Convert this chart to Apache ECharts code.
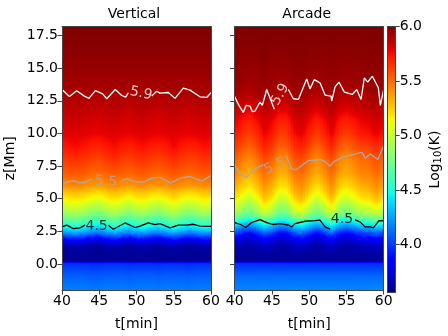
<!DOCTYPE html>
<html><head><meta charset="utf-8">
<style>html,body{margin:0;padding:0;background:#fff}#c{width:448px;height:336px}</style>
<script src="https://cdn.jsdelivr.net/npm/echarts@6/dist/echarts.min.js"></script>
</head><body><div id="c"></div>
<script>
const timeColumns=[40,41,42,43,44,45,46,47,48,49,50,51,52,53,54,55,56,57,58,59,60];
const heightRows=[-2,-1,0,0.1,0.2,1.2,1.6,2,2.4,2.8,3.2,3.6,4,4.5,5,5.5,6,7,8,9,10,11,12,13,14,16,18.2];
const yTicks=[0,2.5,5,7.5,10,12.5,15,17.5];
const colorTicks=[4,4.5,5,5.5,6];
const colorLevels=[3.56,3.65,3.75,3.83,3.9,4,4.1,4.2,4.3,4.41,4.5,4.6,4.7,4.8,4.9,5,5.1,5.15,5.2,5.3,5.4,5.5,5.6,5.73,5.78,5.85,5.92,6];

const verticalTemp=[
[4.17,4.17,4.17,4.17,4.16,4.16,4.17,4.17,4.17,4.16,4.17,4.17,4.17,4.16,4.17,4.17,4.17,4.16,4.17,4.17,4.17],
[4.10,4.10,4.10,4.10,4.09,4.09,4.10,4.10,4.10,4.09,4.10,4.10,4.10,4.09,4.10,4.10,4.10,4.09,4.10,4.10,4.10],
[3.98,3.98,3.98,3.98,3.97,3.97,3.98,3.98,3.98,3.97,3.98,3.98,3.98,3.97,3.98,3.98,3.98,3.97,3.98,3.98,3.98],
[3.94,3.94,3.94,3.94,3.93,3.93,3.94,3.94,3.94,3.93,3.94,3.94,3.94,3.93,3.94,3.94,3.94,3.93,3.94,3.94,3.94],
[3.60,3.60,3.60,3.60,3.60,3.60,3.60,3.60,3.60,3.60,3.60,3.60,3.60,3.60,3.60,3.60,3.60,3.60,3.60,3.60,3.60],
[3.62,3.63,3.64,3.63,3.61,3.61,3.63,3.64,3.63,3.61,3.63,3.64,3.62,3.61,3.63,3.64,3.62,3.61,3.62,3.64,3.63],
[3.72,3.74,3.75,3.73,3.70,3.69,3.72,3.75,3.72,3.69,3.73,3.74,3.71,3.69,3.72,3.76,3.72,3.69,3.71,3.74,3.73],
[3.93,3.96,3.98,3.94,3.88,3.86,3.93,3.98,3.93,3.87,3.94,3.96,3.90,3.87,3.93,3.99,3.92,3.87,3.91,3.96,3.94],
[4.21,4.24,4.26,4.22,4.16,4.14,4.21,4.26,4.21,4.15,4.22,4.24,4.18,4.15,4.21,4.27,4.20,4.15,4.19,4.24,4.22],
[4.46,4.49,4.51,4.47,4.41,4.39,4.46,4.51,4.46,4.40,4.47,4.49,4.43,4.40,4.46,4.52,4.45,4.40,4.44,4.49,4.47],
[4.61,4.64,4.66,4.62,4.56,4.54,4.61,4.66,4.61,4.55,4.62,4.64,4.58,4.55,4.61,4.67,4.60,4.55,4.59,4.64,4.62],
[4.75,4.78,4.80,4.76,4.70,4.68,4.75,4.80,4.75,4.69,4.76,4.78,4.72,4.69,4.75,4.81,4.74,4.69,4.73,4.78,4.76],
[4.89,4.92,4.94,4.90,4.84,4.82,4.89,4.94,4.89,4.83,4.90,4.92,4.86,4.83,4.89,4.95,4.88,4.83,4.87,4.92,4.90],
[5.03,5.06,5.08,5.04,4.98,4.96,5.03,5.08,5.03,4.97,5.04,5.06,5.00,4.97,5.03,5.09,5.02,4.97,5.01,5.06,5.04],
[5.15,5.17,5.19,5.16,5.11,5.09,5.15,5.19,5.15,5.10,5.16,5.17,5.12,5.10,5.15,5.20,5.14,5.10,5.13,5.17,5.16],
[5.27,5.29,5.30,5.28,5.24,5.22,5.27,5.30,5.27,5.23,5.28,5.29,5.25,5.23,5.27,5.31,5.26,5.23,5.25,5.29,5.28],
[5.40,5.42,5.43,5.41,5.38,5.37,5.40,5.43,5.40,5.38,5.41,5.42,5.39,5.38,5.40,5.44,5.40,5.38,5.39,5.42,5.41],
[5.54,5.56,5.56,5.55,5.52,5.52,5.54,5.56,5.54,5.52,5.55,5.56,5.53,5.52,5.54,5.57,5.54,5.52,5.54,5.56,5.55],
[5.63,5.65,5.66,5.64,5.61,5.60,5.63,5.66,5.63,5.61,5.64,5.65,5.62,5.61,5.63,5.67,5.63,5.61,5.62,5.65,5.64],
[5.72,5.74,5.75,5.73,5.70,5.69,5.72,5.75,5.72,5.70,5.73,5.74,5.71,5.70,5.72,5.76,5.72,5.70,5.71,5.74,5.73],
[5.79,5.80,5.80,5.79,5.78,5.78,5.79,5.80,5.79,5.78,5.79,5.80,5.79,5.78,5.79,5.80,5.79,5.78,5.79,5.80,5.79],
[5.83,5.84,5.84,5.83,5.82,5.81,5.83,5.84,5.83,5.81,5.83,5.84,5.82,5.81,5.83,5.84,5.83,5.81,5.83,5.84,5.83],
[5.87,5.88,5.88,5.87,5.87,5.86,5.87,5.88,5.87,5.86,5.87,5.88,5.87,5.86,5.87,5.88,5.87,5.86,5.87,5.88,5.87],
[5.91,5.91,5.91,5.91,5.90,5.90,5.91,5.91,5.91,5.90,5.91,5.91,5.91,5.90,5.91,5.91,5.91,5.90,5.91,5.91,5.91],
[5.93,5.93,5.93,5.93,5.93,5.93,5.93,5.93,5.93,5.93,5.93,5.93,5.93,5.93,5.93,5.93,5.93,5.93,5.93,5.93,5.93],
[5.97,5.97,5.97,5.97,5.97,5.97,5.97,5.97,5.97,5.97,5.97,5.97,5.97,5.97,5.97,5.97,5.97,5.97,5.97,5.97,5.97],
[6.00,6.00,6.00,6.00,6.00,6.00,6.00,6.00,6.00,6.00,6.00,6.00,6.00,6.00,6.00,6.00,6.00,6.00,6.00,6.00,6.00]];

const arcadeTemp=[
[4.19,4.19,4.19,4.19,4.20,4.19,4.19,4.19,4.19,4.20,4.19,4.19,4.19,4.20,4.19,4.19,4.19,4.19,4.19,4.20,4.19],
[4.12,4.12,4.12,4.12,4.12,4.12,4.12,4.12,4.12,4.12,4.12,4.12,4.12,4.12,4.12,4.12,4.12,4.12,4.12,4.12,4.12],
[3.98,3.98,3.98,3.98,3.98,3.98,3.98,3.98,3.98,3.98,3.98,3.98,3.98,3.98,3.98,3.98,3.98,3.98,3.98,3.98,3.98],
[3.94,3.94,3.94,3.94,3.94,3.94,3.94,3.94,3.94,3.94,3.94,3.94,3.94,3.94,3.94,3.94,3.94,3.94,3.94,3.94,3.94],
[3.60,3.60,3.60,3.60,3.60,3.60,3.60,3.60,3.60,3.60,3.60,3.60,3.60,3.60,3.60,3.60,3.60,3.60,3.60,3.60,3.60],
[3.66,3.64,3.63,3.65,3.68,3.66,3.63,3.63,3.67,3.68,3.66,3.63,3.65,3.68,3.64,3.63,3.64,3.66,3.67,3.68,3.67],
[3.73,3.70,3.68,3.71,3.75,3.73,3.68,3.69,3.74,3.76,3.72,3.68,3.72,3.76,3.70,3.68,3.70,3.73,3.73,3.76,3.73],
[3.85,3.77,3.72,3.80,3.90,3.84,3.73,3.74,3.87,3.91,3.82,3.73,3.81,3.91,3.78,3.73,3.78,3.84,3.85,3.91,3.85],
[4.04,3.94,3.88,3.98,4.10,4.02,3.89,3.90,4.06,4.11,4.00,3.89,3.99,4.11,3.95,3.89,3.95,4.02,4.04,4.11,4.04],
[4.32,4.22,4.16,4.26,4.38,4.30,4.17,4.18,4.34,4.39,4.28,4.17,4.27,4.39,4.23,4.17,4.23,4.30,4.32,4.39,4.32],
[4.54,4.44,4.38,4.48,4.60,4.52,4.39,4.40,4.56,4.61,4.50,4.39,4.49,4.61,4.45,4.39,4.45,4.52,4.54,4.61,4.54],
[4.77,4.67,4.60,4.71,4.84,4.76,4.61,4.62,4.79,4.85,4.73,4.61,4.72,4.85,4.68,4.61,4.68,4.76,4.77,4.85,4.77],
[4.95,4.82,4.75,4.87,5.02,4.93,4.76,4.78,4.98,5.04,4.90,4.76,4.88,5.04,4.84,4.76,4.84,4.93,4.95,5.04,4.95],
[5.08,4.95,4.86,5.00,5.17,5.06,4.88,4.90,5.12,5.18,5.03,4.88,5.01,5.18,4.96,4.88,4.96,5.06,5.08,5.18,5.08],
[5.20,5.07,4.99,5.12,5.28,5.18,5.01,5.02,5.23,5.29,5.15,5.01,5.13,5.29,5.09,5.01,5.09,5.18,5.20,5.29,5.20],
[5.28,5.17,5.10,5.21,5.35,5.27,5.11,5.13,5.31,5.37,5.24,5.11,5.23,5.37,5.18,5.11,5.18,5.27,5.28,5.37,5.28],
[5.35,5.25,5.19,5.29,5.41,5.33,5.20,5.21,5.37,5.42,5.31,5.20,5.30,5.42,5.26,5.20,5.26,5.33,5.35,5.42,5.35],
[5.45,5.37,5.32,5.40,5.50,5.44,5.33,5.34,5.47,5.51,5.42,5.33,5.41,5.51,5.38,5.33,5.38,5.44,5.45,5.51,5.45],
[5.54,5.46,5.41,5.49,5.59,5.53,5.42,5.43,5.56,5.59,5.50,5.41,5.49,5.58,5.45,5.40,5.45,5.50,5.51,5.57,5.52],
[5.65,5.57,5.52,5.60,5.70,5.64,5.53,5.54,5.66,5.70,5.61,5.52,5.60,5.69,5.56,5.51,5.56,5.61,5.62,5.68,5.62],
[5.74,5.67,5.62,5.69,5.78,5.73,5.63,5.64,5.76,5.79,5.71,5.63,5.70,5.79,5.67,5.63,5.67,5.73,5.74,5.79,5.74],
[5.79,5.74,5.70,5.76,5.83,5.78,5.71,5.71,5.81,5.83,5.77,5.71,5.76,5.83,5.74,5.71,5.74,5.78,5.79,5.83,5.79],
[5.87,5.83,5.80,5.84,5.89,5.86,5.81,5.81,5.88,5.89,5.85,5.81,5.85,5.89,5.83,5.81,5.83,5.86,5.87,5.89,5.87],
[5.92,5.90,5.89,5.91,5.93,5.91,5.89,5.89,5.92,5.93,5.91,5.89,5.91,5.93,5.90,5.89,5.90,5.91,5.92,5.93,5.92],
[5.95,5.94,5.93,5.94,5.95,5.94,5.93,5.93,5.95,5.95,5.94,5.93,5.94,5.95,5.94,5.93,5.94,5.94,5.95,5.95,5.95],
[5.98,5.97,5.97,5.97,5.98,5.97,5.97,5.97,5.98,5.98,5.97,5.97,5.97,5.98,5.97,5.97,5.97,5.97,5.98,5.98,5.98],
[6.00,6.00,6.00,6.00,6.00,6.00,6.00,6.00,6.00,6.00,6.00,6.00,6.00,6.00,6.00,6.00,6.00,6.00,6.00,6.00,6.00]];

const vertical59=[[40,13.37],[41,12.84],[41.97,13.27],[43,12.86],[43.62,12.69],[44.47,13.29],[45.46,13.04],[46,12.66],[47.16,13.37],[48.01,12.91],[48.55,12.79],[48.9,13.12],[50.5,null],[52.04,12.86],[52.71,13.24],[53.15,13.09],[54.27,13.14],[55.17,12.69],[56.29,13.47],[57.18,13.32],[58.52,12.81],[59.42,12.76],[60,13.12]];
const vertical55=[[40,6.06],[40.63,6.26],[41.52,6.39],[42.42,6.21],[43.09,6.26],[43.98,6.52],[46,null],[48,6.39],[48.68,6.52],[49.8,6.31],[50.92,6.26],[52.04,6.57],[53.15,6.64],[54.59,6.19],[55.84,6.57],[57.18,6.7],[58.75,6.34],[60,6.77]];
const vertical45=[[40,2.84],[40.63,2.97],[41.52,2.71],[42.42,2.76],[43.09,2.97],[44.6,null],[46.22,2.97],[46.89,2.66],[48.46,3.14],[49.8,2.79],[50.47,2.89],[51.59,3.14],[52.48,3.02],[53.15,3.09],[54.5,2.76],[55.62,2.97],[56.73,2.97],[57.63,3.04],[58.52,2.89],[60,2.87]];
const arcade59=[[40,12.81],[40.49,12.23],[41.16,11.6],[41.52,12.15],[42.06,12.1],[42.37,11.67],[42.73,11.72],[43.4,12.41],[43.71,12.15],[44.3,13.37],[44.65,12.86],[45.32,11.85],[46.2,null],[47.2,13.37],[47.87,12.66],[48.55,12.61],[49.66,14.18],[50.11,13.42],[50.69,14.13],[51.45,13.88],[52.13,12.94],[52.93,12.86],[53.02,12.48],[53.47,13.57],[54,13.93],[54.72,13.17],[55.79,12.99],[56.38,13.37],[56.96,12.61],[57.4,14.26],[57.85,13.93],[58.48,14.39],[59.28,13.5],[59.55,12.15],[60,13.37]];
const arcade55=[[40,7.6],[40.7,6.9],[41.6,6.65],[42.7,7.28],[43.85,7.59],[45.4,null],[46.9,8.3],[47.67,7.28],[48.3,7.23],[49.9,7.92],[51.5,8],[52.15,7.84],[52.8,7.49],[53.3,7.84],[54.4,8.17],[55.3,8.3],[56.6,8.5],[57.1,8.55],[57.5,8.1],[58.2,8.43],[59.2,8],[60,9.06]];
const arcade45=[[40,3.17],[40.72,3.04],[41.48,2.79],[42.28,3.17],[43.4,3.4],[44.3,3.17],[45.19,3.02],[46.09,3.09],[47.2,2.97],[47.65,2.84],[48.1,3.09],[49.44,3.27],[50.78,3.32],[51.45,3.35],[52.13,2.84],[52.8,2.66],[54.4,null],[56.15,3.37],[56.82,3.22],[57.49,2.84],[58.17,2.84],[58.61,2.76],[59.37,3.32],[60,3.3]];
const verticalLabels=[[50.6,13.07,'5.9',-12,'#fff'],[45.9,6.3,'5.5',-4,'#a9a9a9'],[44.65,2.89,'4.5',0,'#000']];
const arcadeLabels=[[46.1,12.99,'5.9',60,'#fff'],[45.4,7.49,'5.5',25,'#a9a9a9'],[54.4,3.42,'4.5',0,'#000']];

const FONT='"DejaVu Sans"', FS=14, AX='#444', TMIN=3.56, TMAX=6;
function seg(k,f){for(let i=1;i<k.length;i++){if(f<=k[i][0]){const a=k[i-1],b=k[i];return a[1]+(b[1]-a[1])*(f-a[0])/(b[0]-a[0]);}}return k[k.length-1][1];}
const JR=[[0,0],[.35,0],[.66,1],[.89,1],[1,.5]],JG=[[0,0],[.125,0],[.375,1],[.64,1],[.91,0],[1,0]],JB=[[0,.5],[.11,1],[.34,1],[.65,0],[1,0]];
function jet(v){const f=Math.max(0,Math.min(1,(v-TMIN)/(TMAX-TMIN)));return 'rgb('+Math.round(255*seg(JR,f))+','+Math.round(255*seg(JG,f))+','+Math.round(255*seg(JB,f))+')';}
function cells(cols,rows,m){const out=[];for(let j=0;j<rows.length-1;j++)for(let i=0;i<cols.length-1;i++)out.push([cols[i],cols[i+1],rows[j],rows[j+1],m[j][i],m[j][i+1],m[j+1][i],m[j+1][i+1]]);return out;}
function renderCell(params,api){
  const a=api.coord([api.value(0),api.value(3)]),b=api.coord([api.value(1),api.value(2)]);
  const v00=api.value(4),v10=api.value(5),v01=api.value(6),v11=api.value(7);
  const y0=Math.round(a[1]),y1=Math.round(b[1]),n=Math.max(1,Math.round((b[0]-a[0])/1.5)),kids=[];
  if(y1<=y0)return {type:'group',children:[]};
  for(let k=0;k<n;k++){
    const x0=Math.round(a[0]+(b[0]-a[0])*k/n),x1=Math.round(a[0]+(b[0]-a[0])*(k+1)/n);
    if(x1<=x0)continue;
    const u=(k+.5)/n,bot=v00+(v10-v00)*u,top=v01+(v11-v01)*u,stops=[];
    for(let s=0;s<=4;s++)stops.push({offset:s/4,color:jet(top+(bot-top)*s/4)});
    kids.push({type:'rect',shape:{x:x0,y:y0,width:x1-x0,height:y1-y0},style:{fill:new echarts.graphic.LinearGradient(0,0,0,1,stops)},silent:true});
  }
  return {type:'group',children:kids};
}
function heat(xi,yi,data){return {type:'custom',xAxisIndex:xi,yAxisIndex:yi,data,renderItem:renderCell,encode:{x:[0,1],y:[2,3]},silent:true,animation:false,progressive:0,z:2,clip:false};}
function contour(xi,yi,data,color){return {type:'line',xAxisIndex:xi,yAxisIndex:yi,data,showSymbol:false,symbol:'none',lineStyle:{color,width:1.3},silent:true,animation:false,z:5,clip:true};}
function labelSeries(xi,yi,rows){return {type:'scatter',xAxisIndex:xi,yAxisIndex:yi,symbolSize:1,itemStyle:{color:'rgba(0,0,0,0)'},silent:true,animation:false,z:6,
  data:rows.map(r=>({value:[r[0],r[1]],label:{show:true,position:'inside',align:'center',verticalAlign:'middle',formatter:r[2],rotate:r[3],color:r[4],fontFamily:FONT,fontSize:FS}}))};}
const tick={show:true,length:4.6,lineStyle:{color:AX,width:1}};
const line={show:true,onZero:false,lineStyle:{color:AX,width:1}};
function xAxis(g,on){return {type:'value',gridIndex:g,min:40,max:60,interval:5,position:on?'bottom':'top',z:10,axisLine:line,splitLine:{show:false},
  axisTick:on?tick:{show:false},axisLabel:on?{show:true,color:'#000',fontFamily:FONT,fontSize:FS,margin:4,hideOverlap:false,showMinLabel:true,showMaxLabel:true}:{show:false},
  name:on?'t[min]':'',nameLocation:'middle',nameGap:27,nameTextStyle:{color:'#000',fontFamily:FONT,fontSize:FS}};}
function yAxis(g,pos,labels){const isLeft=pos==='left';return {type:'value',gridIndex:g,min:-2,max:18.2,position:pos,z:10,axisLine:line,splitLine:{show:false},
  axisTick:isLeft?{...tick,customValues:yTicks}:{show:false},
  axisLabel:labels?{show:true,customValues:yTicks,formatter:v=>Number(v).toFixed(1),color:'#000',fontFamily:FONT,fontSize:FS,margin:4}:{show:false},
  name:labels?'z[Mm]':'',nameLocation:'middle',nameGap:45,nameTextStyle:{color:'#000',fontFamily:FONT,fontSize:FS}};}
const colorMatrix=colorLevels.map(v=>[v,v]);
const option={animation:false,backgroundColor:'#fff',
 title:[{text:'Vertical',left:134,top:7,textAlign:'center',padding:0,textStyle:{color:'#000',fontFamily:FONT,fontSize:FS,fontWeight:'normal'}},
        {text:'Arcade',left:306.7,top:7,textAlign:'center',padding:0,textStyle:{color:'#000',fontFamily:FONT,fontSize:FS,fontWeight:'normal'}}],
 grid:[{left:62,top:26.5,width:149,height:266},{left:234.7,top:26.5,width:149,height:266},{left:387.3,top:26.5,width:8.4,height:266}],
 xAxis:[xAxis(0,true),xAxis(0,false),xAxis(1,true),xAxis(1,false),
  {type:'value',gridIndex:2,min:0,max:1,position:'bottom',z:10,axisLine:line,axisTick:{show:false},axisLabel:{show:false},splitLine:{show:false}},
  {type:'value',gridIndex:2,min:0,max:1,position:'top',z:10,axisLine:line,axisTick:{show:false},axisLabel:{show:false},splitLine:{show:false}}],
 yAxis:[yAxis(0,'left',true),yAxis(0,'right',false),yAxis(1,'left',false),yAxis(1,'right',false),
  {type:'value',gridIndex:2,min:TMIN,max:TMAX,position:'right',z:10,axisLine:line,splitLine:{show:false},axisTick:{show:true,length:4,lineStyle:{color:AX,width:1},customValues:colorTicks},
   axisLabel:{show:true,customValues:colorTicks,formatter:v=>Number(v).toFixed(1),color:'#000',fontFamily:FONT,fontSize:FS,margin:4},
   name:'Log{s|10}(K)',nameLocation:'middle',nameGap:32,nameRotate:90,nameTextStyle:{color:'#000',fontFamily:FONT,fontSize:FS,rich:{s:{fontFamily:FONT,fontSize:10,color:'#000',verticalAlign:'bottom',padding:[6,0,0,0]}}}},
  {type:'value',gridIndex:2,min:TMIN,max:TMAX,position:'left',z:10,axisLine:line,axisTick:{show:false},axisLabel:{show:false},splitLine:{show:false}}],
 series:[heat(0,0,cells(timeColumns,heightRows,verticalTemp)),heat(2,2,cells(timeColumns,heightRows,arcadeTemp)),heat(4,4,cells([0,1],colorLevels,colorMatrix)),
  contour(0,0,vertical59,'#fff'),contour(0,0,vertical55,'#a9a9a9'),contour(0,0,vertical45,'#000'),
  contour(2,2,arcade59,'#fff'),contour(2,2,arcade55,'#a9a9a9'),contour(2,2,arcade45,'#000'),
  labelSeries(0,0,verticalLabels),labelSeries(2,2,arcadeLabels)]};
echarts.init(document.getElementById('c'),null,{renderer:'canvas'}).setOption(option);
</script></body></html>
